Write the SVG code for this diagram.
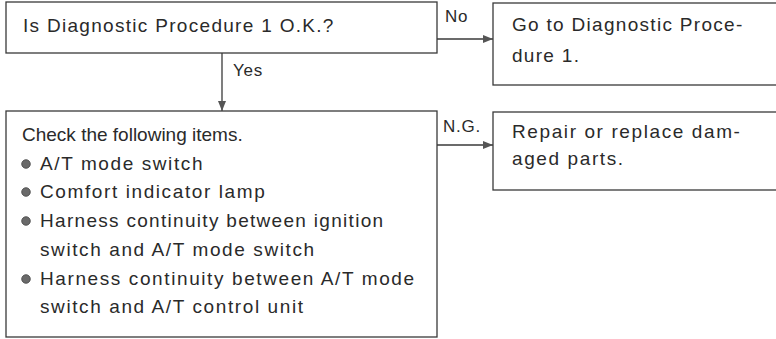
<svg xmlns="http://www.w3.org/2000/svg" width="776" height="339" viewBox="0 0 776 339">
<style>
  .box { fill: #ffffff; stroke: #3a3a3a; stroke-width: 1.3; }
  .t { font-family: "Liberation Sans", Arial, sans-serif; font-size: 19px; letter-spacing: 1.3px; fill: #2a2a2a; }
  .w { letter-spacing: 1.6px; }
  .n { letter-spacing: 0px; }
  .lbl { font-family: "Liberation Sans", Arial, sans-serif; font-size: 17px; letter-spacing: 0.8px; fill: #2a2a2a; }
  .conn { stroke: #3a3a3a; stroke-width: 1.3; fill: none; }
  .bullet { fill: #6a6a6a; stroke: #444; stroke-width: 0.8; }
</style>
<defs>
  <marker id="arr" viewBox="0 0 10 8" refX="10" refY="4" markerWidth="10" markerHeight="8" markerUnits="userSpaceOnUse" orient="auto">
    <path d="M0,0 L10,4 L0,8 Z" fill="#555"/>
  </marker>
</defs>
<rect width="776" height="339" fill="#ffffff"/>

<g id="q1">
  <rect class="box" x="6" y="2" width="431" height="51"/>
  <text class="t" x="23" y="32">Is Diagnostic Procedure 1 O.K.?</text>
</g>

<g id="go1">
  <rect class="box" x="493" y="3" width="290" height="82"/>
  <text class="t" x="512" y="31">Go to Diagnostic Proce-</text>
  <text class="t" x="512" y="62">dure 1.</text>
</g>

<g id="check">
  <rect class="box" x="6" y="111" width="431" height="226"/>
  <text class="t n" x="22" y="141">Check the following items.</text>
  <circle class="bullet" cx="26" cy="164" r="4.3"/>
  <text class="t w" x="40" y="170">A/T mode switch</text>
  <circle class="bullet" cx="26" cy="192" r="4.3"/>
  <text class="t w" x="40" y="198">Comfort indicator lamp</text>
  <circle class="bullet" cx="26" cy="221" r="4.3"/>
  <text class="t" x="40" y="227">Harness continuity between ignition</text>
  <text class="t w" x="40" y="256">switch and A/T mode switch</text>
  <circle class="bullet" cx="26" cy="279" r="4.3"/>
  <text class="t w" x="40" y="285">Harness continuity between A/T mode</text>
  <text class="t w" x="40" y="313">switch and A/T control unit</text>
</g>

<g id="repair">
  <rect class="box" x="493" y="112" width="290" height="78"/>
  <text class="t w" x="512" y="138">Repair or replace dam-</text>
  <text class="t w" x="512" y="165">aged parts.</text>
</g>

<g id="connectors">
  <line class="conn" x1="437" y1="39" x2="493" y2="39" marker-end="url(#arr)"/>
  <text class="lbl" x="445" y="22">No</text>
  <line class="conn" x1="222" y1="53" x2="222" y2="111" marker-end="url(#arr)"/>
  <text class="lbl" x="233" y="76">Yes</text>
  <line class="conn" x1="437" y1="145" x2="493" y2="145" marker-end="url(#arr)"/>
  <text class="lbl" x="443" y="132">N.G.</text>
</g>
</svg>
